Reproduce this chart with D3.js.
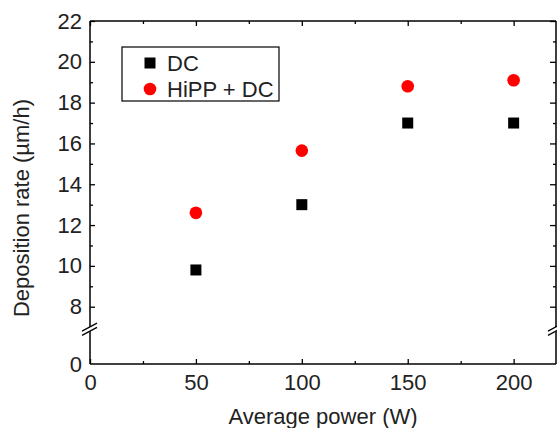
<!DOCTYPE html>
<html>
<head>
<meta charset="utf-8">
<script src="https://cdn.jsdelivr.net/npm/d3@7/dist/d3.min.js"></script>
<style>
  body { margin: 0; background: #fff; }
  svg { font-family: "Liberation Sans", Arial, sans-serif; }
</style>
</head>
<body>
<div id="chart"></div>
<script>
// data
const power = [50, 100, 150, 200];
const dcRate = [9.8, 13.0, 17.0, 17.0];
const hippRate = [12.6, 15.65, 18.8, 19.1];
const xTicks = [0, 50, 100, 150, 200];
const xMinor = [25, 75, 125, 175];
const yTicks = [8, 10, 12, 14, 16, 18, 20, 22];
const yMinor = [9, 11, 13, 15, 17, 19, 21];
const legendItems = [
  { text: "DC", shape: "square", color: "#000" },
  { text: "HiPP + DC", shape: "circle", color: "#ff0000" },
];

const width = 557, height = 428;
const plotLeft = 90, plotRight = 556, plotTop = 21, plotBottom = 364;

const svg = d3.select("#chart").append("svg")
  .attr("width", width).attr("height", height);

const x = d3.scaleLinear().domain([0, 220]).range([plotLeft, plotRight]);
// upper part of broken y axis
const y = d3.scaleLinear().domain([8, 22]).range([306.7, plotTop]);
// lower part (just the zero)
const y0 = d3.scaleLinear().domain([0, 1]).range([plotBottom, plotBottom - 20.4]);

const breakTop = y(7.0);   // axis line stops here
const breakBot = y0(1.6);  // and resumes here

const fontSize = 22;

// bottom axis
svg.append("g").attr("transform", `translate(0,${plotBottom})`)
  .call(d3.axisBottom(x).tickValues(xTicks).tickSize(-5).tickPadding(10).tickFormat(d3.format("d")));
svg.append("g").attr("transform", `translate(0,${plotBottom})`)
  .call(d3.axisBottom(x).tickValues(xMinor).tickSize(-3).tickFormat(""));
// top axis (mirror)
svg.append("g").attr("transform", `translate(0,${plotTop})`)
  .call(d3.axisTop(x).tickValues(xTicks).tickSize(-5).tickFormat(""));
svg.append("g").attr("transform", `translate(0,${plotTop})`)
  .call(d3.axisTop(x).tickValues(xMinor).tickSize(-3).tickFormat(""));

// left axis
svg.append("g").attr("transform", `translate(${plotLeft},0)`)
  .call(d3.axisLeft(y).tickValues(yTicks).tickSize(-5).tickPadding(8).tickFormat(d3.format("d")));
svg.append("g").attr("transform", `translate(${plotLeft},0)`)
  .call(d3.axisLeft(y).tickValues(yMinor).tickSize(-3).tickFormat(""));
svg.append("g").attr("transform", `translate(${plotLeft},0)`)
  .call(d3.axisLeft(y0).tickValues([0]).tickSize(0).tickPadding(8).tickFormat(d3.format("d")));
// right axis (mirror)
svg.append("g").attr("transform", `translate(${plotRight},0)`)
  .call(d3.axisRight(y).tickValues(yTicks).tickSize(-6).tickFormat(""));
svg.append("g").attr("transform", `translate(${plotRight},0)`)
  .call(d3.axisRight(y).tickValues(yMinor).tickSize(-3).tickFormat(""));

svg.selectAll(".domain").remove();
svg.selectAll(".tick line").attr("stroke", "#000").attr("stroke-width", 1.3);
svg.selectAll(".tick text")
  .attr("fill", "#222")
  .style("font-size", fontSize + "px")
  .style("font-family", "Liberation Sans, Arial, sans-serif");

// frame with breaks
const frame = svg.append("g").attr("stroke", "#000").attr("stroke-width", 1.5).attr("fill", "none");
frame.append("path").attr("d", `M${plotLeft},${plotTop}H${plotRight}`);
frame.append("path").attr("d", `M${plotLeft},${plotBottom}H${plotRight}`);
frame.append("path").attr("d", `M${plotLeft},${plotTop}V${breakTop}M${plotLeft},${breakBot}V${plotBottom}`);
frame.append("path").attr("d", `M${plotRight},${plotTop}V${breakTop}M${plotRight},${breakBot}V${plotBottom}`);
// break marks
[plotLeft, plotRight].forEach((bx) => {
  [breakTop, breakBot].forEach((by) => {
    frame.append("path").attr("stroke-width", 1.3)
      .attr("d", `M${bx - 8},${by + 4}L${bx + 7},${by - 4}`);
  });
});

// points
svg.append("g").selectAll("rect").data(power).join("rect")
  .attr("x", (d) => x(d) - 5.5)
  .attr("y", (d, i) => y(dcRate[i]) - 5.5)
  .attr("width", 11).attr("height", 11)
  .attr("fill", "#000");

svg.append("g").selectAll("circle").data(power).join("circle")
  .attr("cx", (d) => x(d))
  .attr("cy", (d, i) => y(hippRate[i]))
  .attr("r", 6.3)
  .attr("fill", "#ff0000");

// legend
const lg = svg.append("g").attr("transform", "translate(122,47)");
lg.append("rect").attr("width", 157).attr("height", 54)
  .attr("fill", "#fff").attr("stroke", "#000").attr("stroke-width", 1.2);
legendItems.forEach((item, i) => {
  const row = lg.append("g").attr("transform", `translate(28,${16 + i * 26})`);
  if (item.shape === "square") {
    row.append("rect").attr("x", -5.5).attr("y", -5.5).attr("width", 11).attr("height", 11).attr("fill", item.color);
  } else {
    row.append("circle").attr("r", 6.3).attr("fill", item.color);
  }
  row.append("text").attr("x", 17).attr("y", 7.5)
    .style("font-size", fontSize + "px").attr("fill", "#222").text(item.text);
});

// axis titles
svg.append("text")
  .attr("x", (plotLeft + plotRight) / 2).attr("y", 424)
  .attr("text-anchor", "middle")
  .style("font-size", fontSize + "px").attr("fill", "#222")
  .text("Average power (W)");

svg.append("text")
  .attr("transform", `translate(29,${208}) rotate(-90)`)
  .attr("text-anchor", "middle")
  .style("font-size", fontSize + "px").attr("fill", "#222")
  .text("Deposition rate (µm/h)");
</script>
</body>
</html>
